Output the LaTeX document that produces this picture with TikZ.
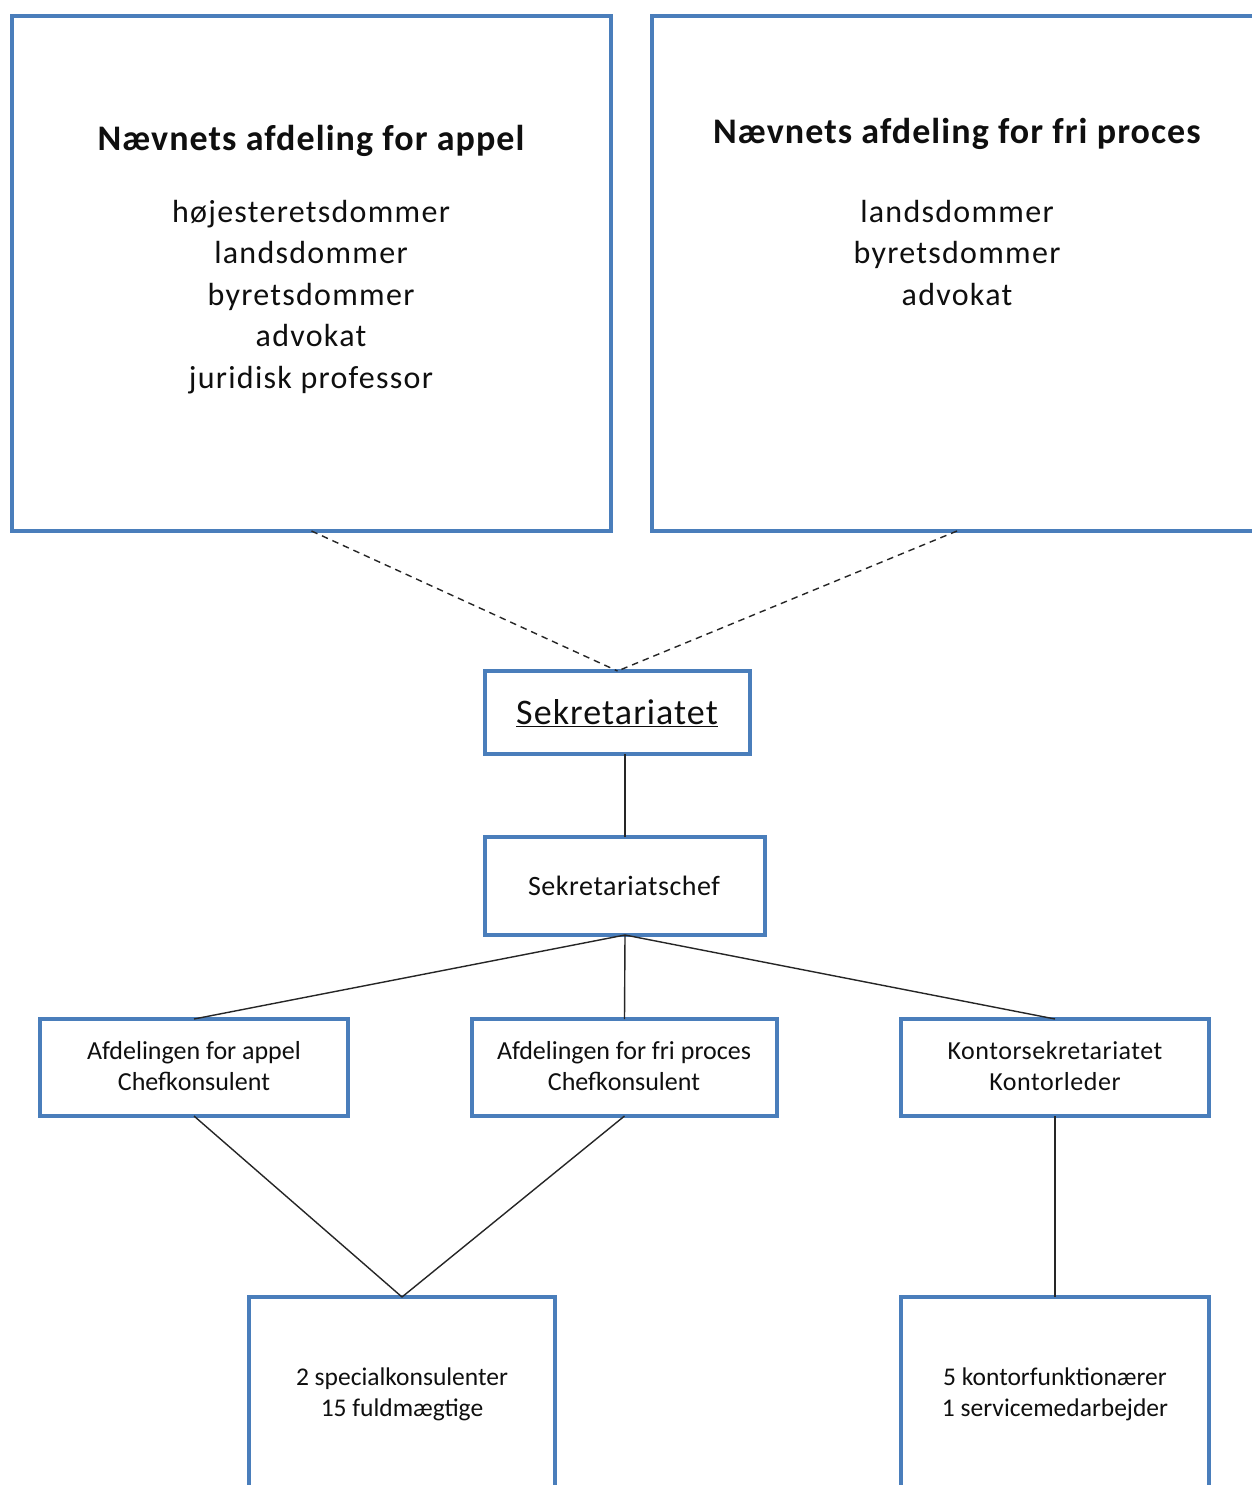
\documentclass[tikz,border=0pt]{standalone}
\usepackage{fontspec}
\setmainfont{Carlito}
\definecolor{boxblue}{RGB}{74,126,187}
\definecolor{txt}{RGB}{15,15,15}
\begin{document}
\begin{tikzpicture}[x=1pt,y=-1pt,
  bx/.style={draw=boxblue,line width=4.5pt,fill=white,rectangle,outer sep=0pt,inner sep=0pt},
  lbl/.style={text=txt,align=center,inner sep=0pt},
  conn/.style={draw=black!85,line width=1.4pt},
  dconn/.style={draw=black!85,line width=1.4pt,dash pattern=on 6.5pt off 5pt}]
\useasboundingbox (0,0) rectangle (1252,1485);
\fill[white] (0,0) rectangle (1252,1485);
% boxes
\node[bx,minimum width=599pt,minimum height=515pt] (top1) at (311.5,273.5) {};
\node[bx,minimum width=610pt,minimum height=515pt] (top2) at (957,273.5) {};
\node[bx,minimum width=265pt,minimum height=83pt] (sek) at (617.5,712.5) {};
\node[bx,minimum width=280pt,minimum height=98pt] (chef) at (625,886) {};
\node[bx,minimum width=308pt,minimum height=97pt] (afd1) at (194,1067.5) {};
\node[bx,minimum width=305pt,minimum height=97pt] (afd2) at (624.5,1067.5) {};
\node[bx,minimum width=308pt,minimum height=97pt] (kon) at (1055,1067.5) {};
\node[bx,minimum width=306pt,minimum height=300pt] (bot1) at (402,1447) {};
\node[bx,minimum width=308pt,minimum height=300pt] (bot2) at (1055,1447) {};
% texts
\node[lbl,font=\fontsize{36}{42}\selectfont\bfseries\addfontfeature{LetterSpace=3}] (t1) at (311,141) {Nævnets afdeling for appel};
\node[lbl,font=\fontsize{32}{41.5}\selectfont\addfontfeature{LetterSpace=4}] (m1) at (311,297) {højesteretsdommer\\landsdommer\\byretsdommer\\advokat\\juridisk professor};
\node[lbl,font=\fontsize{36}{42}\selectfont\bfseries\addfontfeature{LetterSpace=3}] (t2) at (957,134) {Nævnets afdeling for fri proces};
\node[lbl,font=\fontsize{32}{41.5}\selectfont\addfontfeature{LetterSpace=4}] (m2) at (957,253) {landsdommer\\byretsdommer\\advokat};
\node[lbl,font=\fontsize{36}{40}\selectfont\addfontfeature{LetterSpace=3}] (ts) at (617,713) {\underline{Sekretariatet}};
\node[lbl,font=\fontsize{28}{32}\selectfont\addfontfeature{LetterSpace=2}] (tc) at (624,886) {Sekretariatschef};
\node[lbl,font=\fontsize{26}{31}\selectfont] (ta1) at (194,1066) {Afdelingen for appel\\Chefkonsulent};
\node[lbl,font=\fontsize{26}{31}\selectfont] (ta2) at (624,1066) {Afdelingen for fri proces\\Chefkonsulent};
\node[lbl,font=\fontsize{26}{31}\selectfont\addfontfeature{LetterSpace=2}] (tk) at (1055,1066) {Kontorsekretariatet\\Kontorleder};
\node[lbl,font=\fontsize{25.5}{31}\selectfont] (tb1) at (402,1394) {2 specialkonsulenter\\15 fuldmægtige};
\node[lbl,font=\fontsize{25.5}{31}\selectfont] (tb2) at (1055,1394) {5 kontorfunktionærer\\1 servicemedarbejder};
% connectors
\coordinate (apex) at (sek.north);
\draw[dconn] (top1.south) -- (apex);
\draw[dconn] (top2.south) -- (apex);
\draw[conn] (chef.north) -- (chef.north |- sek.south);
\draw[conn] (chef.south) -- (afd1.north);
\draw[conn] (chef.south) -- (afd2.north);
\draw[conn] (chef.south) -- (kon.north);
\draw[conn] (afd1.south) -- (bot1.north);
\draw[conn] (afd2.south) -- (bot1.north);
\draw[conn] (kon.south) -- (bot2.north);
\end{tikzpicture}
\end{document}
